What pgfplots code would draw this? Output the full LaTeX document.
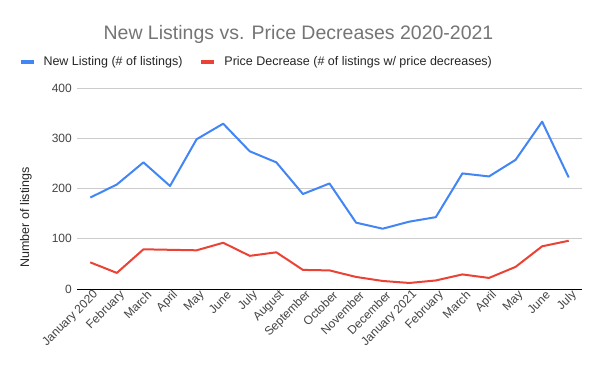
\documentclass[border=0pt]{standalone}
\usepackage{pgfplots}
\pgfplotsset{compat=1.18}
\usepackage{fontspec}
\setmainfont{Liberation Sans}
\definecolor{gblue}{HTML}{4285F4}
\definecolor{gred}{HTML}{EA4335}
\definecolor{titlegray}{HTML}{757575}
\definecolor{ticktext}{HTML}{444444}
\definecolor{gridgray}{HTML}{CCCCCC}
\begin{document}
\begin{tikzpicture}
\path[fill=white] (0,0) rectangle (600bp,371bp);
\node[anchor=base, text=titlegray, inner sep=0pt, font=\fontsize{19.5bp}{23bp}\selectfont] at (298.5bp,331.7bp) {New Listings vs. Price Decreases 2020-2021};
\begin{axis}[
  at={(77bp,82bp)}, anchor=south west,
  scale only axis,
  width=505bp, height=201bp,
  xmin=-0.5, xmax=18.5,
  ymin=0, ymax=400,
  ytick={0,100,200,300,400},
  xtick={0,...,18},
  xticklabels={January 2020,February,March,April,May,June,July,August,September,October,November,December,January 2021,February,March,April,May,June,July},
  axis x line*=bottom,
  axis y line*=left,
  y axis line style={draw=none},
  x axis line style={black, line width=0.8bp},
  major tick length=0pt,
  ymajorgrids,
  grid style={gridgray, line width=0.8bp},
  /pgf/number format/assume math mode=true,
  tick label style={text=ticktext, font=\fontsize{12bp}{14bp}\selectfont},
  yticklabel style={inner sep=0pt, xshift=-5bp},
  xticklabel style={inner sep=0pt, anchor=east, xshift=6bp, yshift=-4bp, rotate=45},
  ylabel={Number of listings},
  ylabel style={at={(axis description cs:-0.101,0.356)}, anchor=center, inner sep=0pt, text=black!85, font=\fontsize{12.5bp}{15bp}\selectfont},
  legend columns=2,
  legend style={at={(axis description cs:-0.1162,1.1294)}, anchor=west, draw=none, fill=none, inner sep=0pt,
    column sep=8bp, /tikz/every even column/.append style={column sep=17bp},
    nodes={inner sep=0pt, anchor=west, text=black!85, font=\fontsize{12.5bp}{15bp}\selectfont}},
  legend image code/.code={\draw[line width=4bp] (0bp,0bp) -- (13bp,0bp);},
  clip=false,
]
\addplot[gblue, line width=2bp, line join=round] coordinates {
(0,182) (1,208) (2,252) (3,205) (4,298) (5,329) (6,274) (7,252) (8,189) (9,210)
(10,132) (11,120) (12,134) (13,143) (14,230) (15,224) (16,257) (17,333) (18,222)};
\addlegendentry{New Listing (\# of listings)}
\addplot[gred, line width=2bp, line join=round] coordinates {
(0,53) (1,32) (2,79) (3,78) (4,77) (5,92) (6,66) (7,73) (8,38) (9,37)
(10,24) (11,16) (12,12) (13,17) (14,29) (15,22) (16,44) (17,85) (18,96)};
\addlegendentry{Price Decrease (\# of listings w/ price decreases)}
\end{axis}
\end{tikzpicture}
\end{document}
